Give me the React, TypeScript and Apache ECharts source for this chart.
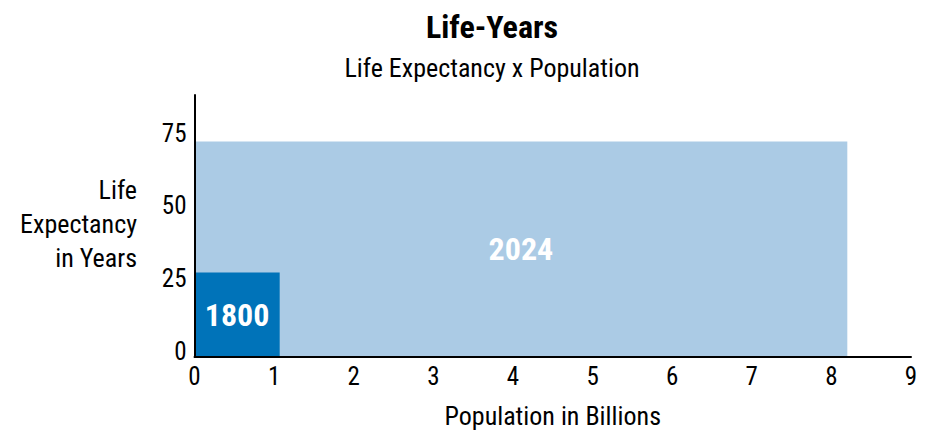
import React, { useEffect, useRef } from "react";
import * as echarts from "echarts";

const years = ["2024", "1800"];
const populationBillions = [8.2, 1.07];
const lifeExpectancy = [74, 29];
const barColors = ["#abcbe5", "#0073b9"];
const xTicks = [0, 1, 2, 3, 4, 5, 6, 7, 8, 9];
const yTicks = [0, 25, 50, 75];

const FONT = '"Roboto Condensed", "DejaVu Sans Condensed", sans-serif';

export default function App() {
  const ref = useRef<HTMLDivElement>(null);
  useEffect(() => {
    if (!ref.current) return;
    const chart = echarts.init(ref.current, undefined, { renderer: "svg" });
    const data = years.map((y, i) => [populationBillions[i], lifeExpectancy[i], y, barColors[i]]);
    chart.setOption({
      animation: false,
      backgroundColor: "#ffffff",
      textStyle: { fontFamily: FONT },
      graphic: [
        {
          type: "text",
          x: 492,
          y: 11,
          style: { text: "Life-Years", font: `bold 32px ${FONT}`, fill: "#000", textAlign: "center" },
        },
        {
          type: "text",
          x: 492,
          y: 55,
          style: { text: "Life Expectancy x Population", font: `26px ${FONT}`, fill: "#000", textAlign: "center" },
        },
        {
          type: "text",
          x: 137,
          y: 224,
          style: {
            text: "Life\nExpectancy\nin Years",
            font: `26px ${FONT}`,
            lineHeight: 34,
            fill: "#000",
            textAlign: "right",
            textVerticalAlign: "middle",
          },
        },
      ],
      grid: { left: 194.5, right: 25, top: 95, bottom: 91, containLabel: false },
      xAxis: {
        type: "value",
        z: 10,
        min: xTicks[0],
        max: xTicks[xTicks.length - 1],
        interval: 1,
        name: "Population in Billions",
        nameLocation: "middle",
        nameGap: 46,
        nameTextStyle: { fontSize: 26, color: "#000", fontFamily: FONT },
        axisLine: { show: true, lineStyle: { color: "#000", width: 2 } },
        axisTick: { show: false },
        splitLine: { show: false },
        axisLabel: { fontSize: 25, color: "#000", margin: 7, fontFamily: FONT },
      },
      yAxis: {
        type: "value",
        z: 10,
        min: 0,
        max: 90,
        interval: 25,
        axisLine: { show: true, lineStyle: { color: "#000", width: 2 } },
        axisTick: { show: false },
        splitLine: { show: false },
        axisLabel: {
          fontSize: 25,
          color: "#000",
          margin: 8,
          fontFamily: FONT,
          showMaxLabel: false,
          verticalAlign: "bottom",
          lineHeight: 11,
          formatter: (v: number) => (yTicks.includes(v) ? String(v) : ""),
        },
      },
      series: [
        {
          type: "custom",
          z: 1,
          data,
          encode: { x: 0, y: 1 },
          renderItem: (params: any, api: any) => {
            const p0 = api.coord([0, 0]);
            const p1 = api.coord([api.value(0), api.value(1)]);
            const color = data[params.dataIndex][3] as string;
            return {
              type: "rect",
              shape: { x: p0[0], y: p1[1], width: p1[0] - p0[0], height: p0[1] - p1[1] },
              style: { fill: color },
              textContent: {
                style: {
                  text: String(data[params.dataIndex][2]),
                  fill: "#fff",
                  font: `bold 32px ${FONT}`,
                },
              },
              textConfig: { position: "inside" },
            };
          },
        },
      ],
    });
    return () => chart.dispose();
  }, []);
  return <div ref={ref} style={{ position: "fixed", left: 0, top: 0, width: 936, height: 448 }} />;
}
